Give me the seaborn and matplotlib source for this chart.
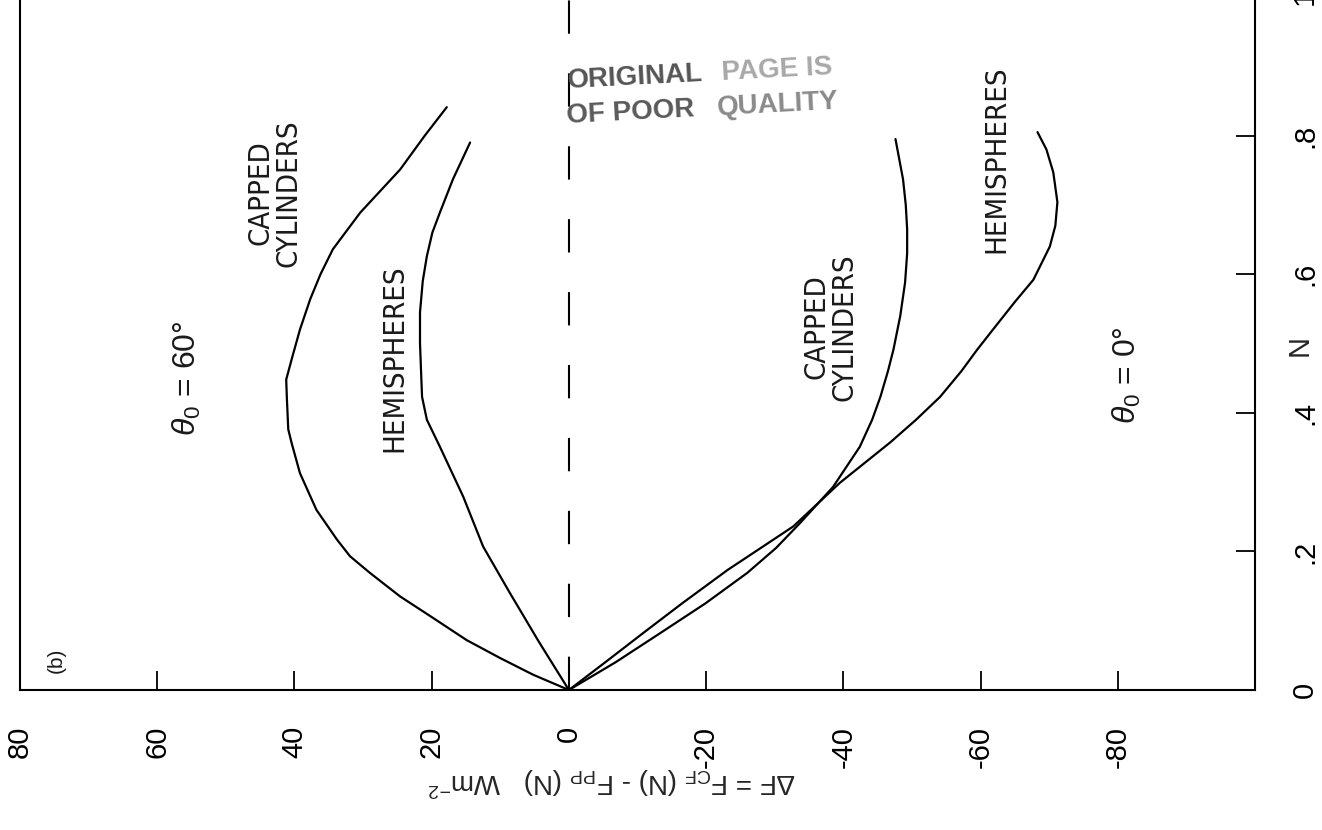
import numpy as np
import pandas as pd
import seaborn as sns
import matplotlib
matplotlib.use("Agg")
import matplotlib.pyplot as plt

# ---------------- data ----------------
x_ticks = [80, 60, 40, 20, 0, -20, -40, -60, -80]
x_tick_labels = ["80", "60", "40", "20", "0", "-20", "-40", "-60", "-80"]
n_ticks = [0, 0.2, 0.4, 0.6, 0.8, 1.0]
n_tick_labels = ["0", ".2", ".4", ".6", ".8", "1"]

# theta0 = 60 deg, capped cylinders
cc60_n = [0, 0.022, 0.046, 0.072, 0.104, 0.135, 0.169, 0.193, 0.217, 0.26, 0.313, 0.356,
          0.376, 0.42, 0.448, 0.481, 0.52, 0.564, 0.6, 0.636, 0.689, 0.751, 0.8, 0.841]
cc60_df = [0, 5.2, 10.0, 14.9, 19.8, 24.6, 29.0, 31.9, 33.8, 36.8, 39.2, 40.4,
           40.9, 41.1, 41.2, 40.3, 39.2, 37.7, 36.2, 34.4, 30.4, 24.6, 21.0, 17.8]
# theta0 = 60 deg, hemispheres
h60_n = [0, 0.07, 0.14, 0.207, 0.279, 0.351, 0.39, 0.423, 0.448, 0.5, 0.545, 0.59,
         0.626, 0.66, 0.689, 0.737, 0.79]
h60_df = [0, 4.4, 8.6, 12.5, 15.4, 18.8, 20.7, 21.4, 21.5, 21.7, 21.7, 21.3,
          20.7, 19.9, 18.8, 16.9, 14.4]
# theta0 = 0 deg, capped cylinders
cc0_n = [0, 0.04, 0.082, 0.125, 0.169, 0.205, 0.241, 0.293, 0.351, 0.39, 0.423, 0.46,
         0.491, 0.54, 0.588, 0.63, 0.665, 0.7, 0.737, 0.795]
cc0_df = [0, -6.8, -13.3, -19.9, -26.0, -30.2, -33.7, -38.5, -42.4, -44.2, -45.4, -46.5,
          -47.3, -48.3, -49.0, -49.3, -49.3, -49.1, -48.7, -47.6]
# theta0 = 0 deg, hemispheres
h0_n = [0, 0.04, 0.082, 0.125, 0.173, 0.236, 0.299, 0.357, 0.39, 0.423, 0.46, 0.491, 0.52,
        0.56, 0.592, 0.64, 0.67, 0.704, 0.747, 0.78, 0.805]
h0_df = [0, -5.3, -10.8, -16.5, -23.1, -32.7, -39.5, -46.8, -50.6, -54.1, -57.2, -59.5,
         -61.8, -65.0, -67.7, -70.1, -70.9, -71.2, -70.6, -69.6, -68.3]

curves = {
    "cc60": (cc60_df, cc60_n),
    "h60": (h60_df, h60_n),
    "cc0": (cc0_df, cc0_n),
    "h0": (h0_df, h0_n),
}

# ---------------- style ----------------
sns.set_theme(style="white")
plt.rcParams["font.family"] = ["Liberation Sans", "DejaVu Sans"]
plt.rcParams["mathtext.fontset"] = "custom"
plt.rcParams["mathtext.rm"] = "Liberation Sans"
plt.rcParams["mathtext.it"] = "Liberation Sans:italic"
plt.rcParams["mathtext.bf"] = "Liberation Sans:bold"

W, H = 1322, 830
fig = plt.figure(figsize=(W / 100, H / 100), dpi=100)
fig.patch.set_facecolor("white")
ax = fig.add_axes([20 / W, 140 / H, 1235 / W, 693 / H])
ax.set_facecolor("white")

for name, (dfv, nv) in curves.items():
    d = pd.DataFrame({"dF": dfv, "N": nv})
    sns.lineplot(data=d, x="dF", y="N", sort=False, estimator=None,
                 color="black", linewidth=1.6, ax=ax)

ax.axvline(0, ymin=0, ymax=1, color="black", linewidth=1.5,
           linestyle=(0, (16, 19)))

ax.set_xlim(80, -100)
ax.set_ylim(0, 1.0)

for s in ["left", "bottom", "right"]:
    ax.spines[s].set_visible(True)
    ax.spines[s].set_color("black")
    ax.spines[s].set_linewidth(1.5)
ax.spines["top"].set_visible(False)

ax.set_xticks(x_ticks)
ax.set_xticklabels(x_tick_labels, rotation=90, fontsize=21)
ax.yaxis.tick_right()
ax.set_yticks(n_ticks)
ax.set_yticklabels(n_tick_labels, rotation=90, fontsize=21, va="center")
ax.tick_params(axis="x", direction="in", length=14, width=1.3, pad=26,
               bottom=True, top=False, colors="black")
ax.tick_params(axis="y", direction="in", length=14, width=1.3, pad=26,
               right=True, left=False, colors="black")

ax.set_xlabel(r"$\Delta$F = F$_{\rm CF}$ (N) - F$_{\rm PP}$ (N)   Wm$^{-2}$",
              fontsize=20, rotation=180, va="center", ha="center")
ax.xaxis.set_label_coords((612 - 20) / 1235, (690 - 782) / 693)
ax.yaxis.set_label_position("right")
ax.set_ylabel("N", fontsize=21, rotation=90, va="center", ha="center")
ax.yaxis.set_label_coords((1300 - 20) / 1235, (690 - 345) / 693)


def px(x, y):
    return ((x - 20) / 1235, (690 - y) / 693)


def label(x, y, s, **kw):
    kw.setdefault("fontsize", 21)
    kw.setdefault("family", "DejaVu Sans")
    kw.setdefault("fontstretch", "condensed")
    ax.text(*px(x, y), s, transform=ax.transAxes, rotation=90,
            ha="center", va="center", color="#1a1a1a", **kw)


label(275, 193, "CAPPED\nCYLINDERS", linespacing=1.0)
label(394, 358, "HEMISPHERES")
label(831, 327, "CAPPED\nCYLINDERS", linespacing=1.0)
label(996, 159, "HEMISPHERES")
label(187, 378, r"$\theta_{0}$ = 60°", fontsize=23, family=["Liberation Sans", "DejaVu Sans"],
      fontstretch="normal")
label(1127, 375, r"$\theta_{0}$ = 0°", fontsize=23, family=["Liberation Sans", "DejaVu Sans"],
      fontstretch="normal")
label(56, 660, "(b)", fontsize=15, family=["Liberation Sans", "DejaVu Sans"],
      fontstretch="normal")

# stamp
stamp = dict(transform=ax.transAxes, rotation=3, rotation_mode="anchor",
             ha="left", va="baseline", fontsize=20, fontweight="bold",
             family=["Liberation Sans", "DejaVu Sans"])
ax.text(*px(568, 88), "ORIGINAL", color="#555555", **stamp)
ax.text(*px(722, 80), "PAGE IS", color="#a8a8a8", **stamp)
ax.text(*px(567, 123), "OF POOR", color="#5a5a5a", **stamp)
ax.text(*px(718, 115), "QUALITY", color="#8a8a8a", **stamp)

fig.savefig("out.png", dpi=100, facecolor="white")
